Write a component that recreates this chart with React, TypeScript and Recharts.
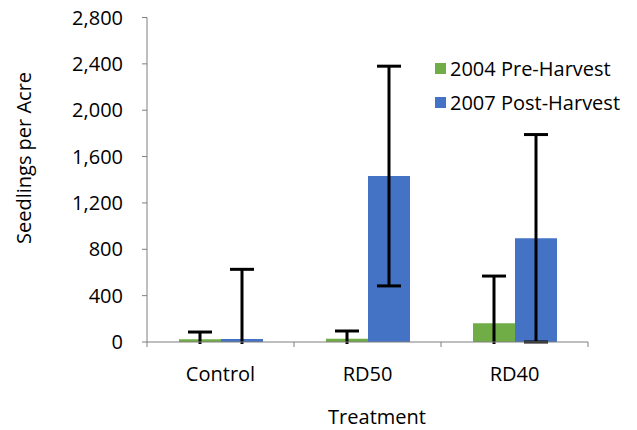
import React from 'react';
import { BarChart, Bar, XAxis, YAxis, ErrorBar, Legend } from 'recharts';

const categories = ['Control', 'RD50', 'RD40'];
const preHarvest = [23, 28, 161];
const preHarvestErr = [63, 67, 408];
const postHarvest = [26, 1432, 895];
const postHarvestErr = [601, 948, 895];
const yTicks = [0, 400, 800, 1200, 1600, 2000, 2400, 2800];
const seriesNames = ['2004 Pre-Harvest', '2007 Post-Harvest'];
const seriesColors = ['#70AD47', '#4472C4'];
const xTitle = 'Treatment';
const yTitle = 'Seedlings per Acre';

const data = categories.map((c, i) => ({
  name: c,
  pre: preHarvest[i],
  preErr: preHarvestErr[i],
  post: postHarvest[i],
  postErr: postHarvestErr[i],
}));

const W = 637;
const H = 430;
const LEFT = 147;
const RIGHT = 49;
const TOP = 17.5;
const XAXIS_H = 88;
const AXIS_Y = H - XAXIS_H;
const PLOT_W = W - LEFT - RIGHT;
const BAND = PLOT_W / categories.length;
const AXIS_COLOR = '#7f7f7f';
const FONT = "'Open Sans', sans-serif";

const XTick = (props: any) => {
  const { x, payload, index } = props;
  const half = BAND / 2;
  return (
    <g>
      <line x1={x - half} x2={x - half} y1={AXIS_Y} y2={AXIS_Y + 5} stroke={AXIS_COLOR} />
      {index === categories.length - 1 && (
        <line x1={x + half} x2={x + half} y1={AXIS_Y} y2={AXIS_Y + 5} stroke={AXIS_COLOR} />
      )}
      <text x={x} y={AXIS_Y + 39} textAnchor="middle" fill="#000" fontSize={20}>
        {payload.value}
      </text>
    </g>
  );
};

const renderLegend = (props: any) => {
  const { payload } = props;
  return (
    <div style={{ fontFamily: FONT, fontSize: 20, color: '#000' }}>
      {payload.map((p: any, i: number) => (
        <div key={i} style={{ display: 'flex', alignItems: 'center', height: 34, whiteSpace: 'nowrap' }}>
          <span style={{ display: 'inline-block', width: 11, height: 11, background: p.color, marginRight: 4 }} />
          <span>{p.value}</span>
        </div>
      ))}
    </div>
  );
};

export default function App() {
  return (
    <div style={{ position: 'absolute', left: 0, top: 0, width: W, height: H, fontFamily: FONT, background: '#fff' }}>
      <svg width={0} height={0} style={{ position: 'absolute' }}>
        <defs>
          <clipPath id="errClip" clipPathUnits="userSpaceOnUse">
            <rect x={LEFT} y={0} width={PLOT_W} height={AXIS_Y + 2} />
          </clipPath>
        </defs>
      </svg>
      <BarChart
        width={W}
        height={H}
        data={data}
        margin={{ top: TOP, right: RIGHT, left: 0, bottom: 0 }}
        barSize={42}
        barGap={0}
      >
        <XAxis
          dataKey="name"
          height={XAXIS_H}
          axisLine={{ stroke: AXIS_COLOR }}
          tickLine={false}
          tick={<XTick />}
          interval={0}
          label={{
            content: () => (
              <text x={377} y={424} textAnchor="middle" fill="#000" fontSize={20}>
                {xTitle}
              </text>
            ),
          }}
        />
        <YAxis
          width={LEFT}
          domain={[0, 2800]}
          ticks={yTicks}
          allowDataOverflow
          interval={0}
          axisLine={{ stroke: AXIS_COLOR }}
          tickLine={{ stroke: AXIS_COLOR }}
          tickSize={5}
          tickMargin={19}
          tick={{ fill: '#000', fontSize: 20 }}
          tickFormatter={(v: number) => v.toLocaleString('en-US')}
          label={{
            content: () => (
              <text x={31} y={244} textAnchor="start" fill="#000" fontSize={20} transform="rotate(-90, 31, 244)">
                {yTitle}
              </text>
            ),
          }}
        />
        <Legend
          layout="vertical"
          align="center"
          verticalAlign="middle"
          content={renderLegend}
          wrapperStyle={{ position: 'absolute', left: 435, top: 51.5, width: 200 }}
        />
        <Bar dataKey="pre" name={seriesNames[0]} fill={seriesColors[0]} isAnimationActive={false}>
          <ErrorBar dataKey="preErr" width={12} strokeWidth={3} stroke="#000" direction="y" clipPath="url(#errClip)" />
        </Bar>
        <Bar dataKey="post" name={seriesNames[1]} fill={seriesColors[1]} isAnimationActive={false}>
          <ErrorBar dataKey="postErr" width={12} strokeWidth={3} stroke="#000" direction="y" clipPath="url(#errClip)" />
        </Bar>
      </BarChart>
    </div>
  );
}
